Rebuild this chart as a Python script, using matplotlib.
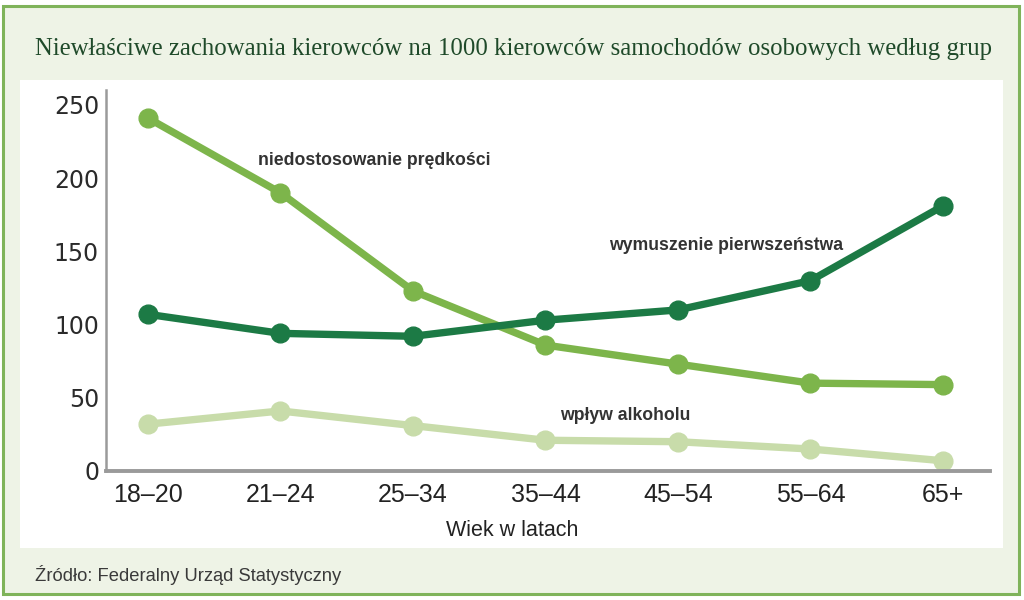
import numpy as np
import matplotlib
import matplotlib.pyplot as plt
from matplotlib.patches import Rectangle

matplotlib.rcParams.update({
    'font.family': ['Liberation Sans', 'DejaVu Sans'],
})

# data
age_groups = ['18–20', '21–24', '25–34', '35–44', '45–54', '55–64', '65+']
speed = [241, 190, 123, 86, 73, 60, 59]
priority = [107, 94, 92, 103, 110, 130, 181]
alcohol = [32, 41, 31, 21, 20, 15, 7]
y_ticks = [0, 50, 100, 150, 200, 250]

C_SPEED = '#7db54b'
C_PRIO = '#1c7a45'
C_ALC = '#c8dcaa'
BG = '#eef3e6'
BORDER = '#7fb35a'

W, H = 1024, 600
fig = plt.figure(figsize=(W / 100, H / 100), dpi=100)
fig.patch.set_facecolor('white')

# outer framed panel and white plotting card
fig.patches.append(Rectangle((3 / W, 1 - 594 / H), 1016 / W, 588 / H, transform=fig.transFigure,
                             facecolor=BG, edgecolor=BORDER, lw=2.2, zorder=-2))
fig.patches.append(Rectangle((20 / W, 1 - 548 / H), 983 / W, 468 / H, transform=fig.transFigure,
                             facecolor='white', edgecolor='none', zorder=-1))

fig.text(35 / W, 1 - 49 / H, 'Niewłaściwe zachowania kierowców na 1000 kierowców samochodów osobowych według grup',
         family=['Liberation Serif', 'DejaVu Serif'], fontsize=17.8, color='#1f4a2a', va='center', ha='left')
fig.text(35 / W, 1 - 575 / H, 'Źródło: Federalny Urząd Statystyczny', fontsize=13.2, color='#3a3a3a',
         va='center', ha='left')
fig.text(512 / W, 1 - 531 / H, 'Wiek w latach', fontsize=15.5, color='#222222', va='center', ha='center')

ax = fig.add_axes([106 / W, 1 - 471 / H, 884 / W, 381 / H])
ax.patch.set_alpha(0)
x = np.arange(len(age_groups))
ax.plot(x, alcohol, color=C_ALC, lw=5.3, marker='o', ms=13.5, solid_capstyle='round', zorder=2)
ax.plot(x, speed, color=C_SPEED, lw=5.3, marker='o', ms=13.5, solid_capstyle='round', zorder=3)
ax.plot(x, priority, color=C_PRIO, lw=5.3, marker='o', ms=13.5, solid_capstyle='round', zorder=4)

ax.set_xlim(-0.317, 6.355)
ax.set_ylim(0, 260.2)
ax.set_xticks(x)
ax.set_xticklabels(age_groups, fontsize=18, color='#222222')
ax.set_yticks(y_ticks)
ax.set_yticklabels([str(v) for v in y_ticks], fontsize=17, color='#2a2a2a',
                   family=['DejaVu Sans'])
ax.tick_params(length=0)
ax.tick_params(axis='x', pad=9)
ax.tick_params(axis='y', pad=5)
for s in ['top', 'right']:
    ax.spines[s].set_visible(False)
ax.spines['left'].set_color('#9a9a9a')
ax.spines['left'].set_linewidth(1.8)
ax.spines['bottom'].set_color('#9a9a9a')
ax.spines['bottom'].set_linewidth(2.8)

ax.text(0.83, 212, 'niedostosowanie prędkości', fontsize=12.7, fontweight='bold', color='#333333',
        ha='left', va='center')
ax.text(3.48, 154, 'wymuszenie pierwszeństwa', fontsize=12.7, fontweight='bold', color='#333333',
        ha='left', va='center')
ax.text(3.11, 38, 'wpływ alkoholu', fontsize=12.7, fontweight='bold', color='#333333',
        ha='left', va='center')

fig.savefig('out.png', dpi=100)
